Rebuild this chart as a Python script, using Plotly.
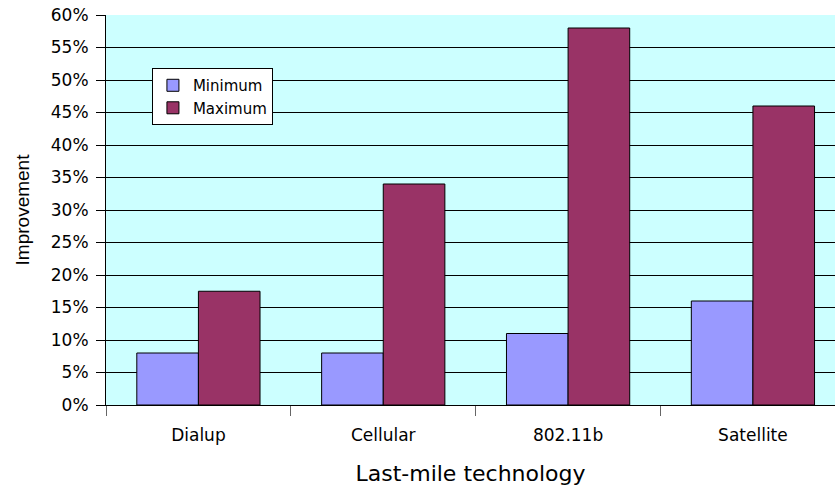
import plotly.graph_objects as go

categories = ["Dialup", "Cellular", "802.11b", "Satellite"]
minimum = [0.08, 0.08, 0.11, 0.16]
maximum = [0.175, 0.34, 0.58, 0.46]
y_ticks = [i * 0.05 for i in range(13)]
y_tick_labels = [f"{i*5}%" for i in range(13)]

WIDE = "DejaVu Sans, Liberation Sans, Arial, sans-serif"
NARROW = "Liberation Sans, Arial, sans-serif"

fig = go.Figure()
fig.add_trace(go.Bar(name="Minimum", x=categories, y=minimum,
                     marker=dict(color="#9999FF", line=dict(color="black", width=1))))
fig.add_trace(go.Bar(name="Maximum", x=categories, y=maximum,
                     marker=dict(color="#993366", line=dict(color="black", width=1))))

fig.update_layout(
    width=835, height=486,
    margin=dict(l=106, r=0, t=15, b=81),
    paper_bgcolor="white",
    plot_bgcolor="#CCFFFF",
    barmode="group",
    bargap=1/3,
    bargroupgap=0,
    font=dict(family=WIDE, color="black", size=16),
    legend=dict(x=0.063, y=0.864, xanchor="left", yanchor="top",
                bgcolor="white", bordercolor="black", borderwidth=1,
                font=dict(family=WIDE, size=15), tracegroupgap=0, itemwidth=30),
    showlegend=True,
)
fig.update_xaxes(
    range=[-0.5, 3.444],
    automargin=False,
    tickson="boundaries", ticks="outside", ticklen=10, tickcolor="#666666",
    showline=True, linecolor="black", linewidth=1,
    ticklabelstandoff=15,
    title=dict(text="Last-mile technology", font=dict(family=WIDE, size=22), standoff=31),
    tickfont=dict(family=WIDE, size=17),
)
fig.update_yaxes(
    range=[0, 0.6],
    automargin=False,
    tickvals=y_ticks, ticktext=y_tick_labels,
    ticks="outside", ticklen=9, tickcolor="black",
    showline=True, linecolor="black", linewidth=1,
    showgrid=True, gridcolor="black", gridwidth=1,
    zeroline=False,
    ticklabelstandoff=4,
    title=dict(text="Improvement", font=dict(family=NARROW, size=19), standoff=16),
    tickfont=dict(family=WIDE, size=17),
)
fig.write_html("out.html", config={"displayModeBar": False},
               post_script="document.body.style.margin='0';document.body.style.overflow='hidden';")
